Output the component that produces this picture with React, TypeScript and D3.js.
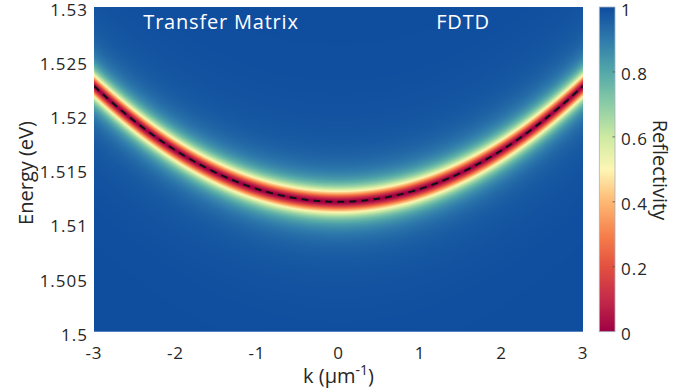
import React, { useMemo } from "react";
import * as d3 from "d3";

// ---- data ----
const K_POINTS = [-3, -2.5, -2, -1.5, -1, -0.5, 0, 0.5, 1, 1.5, 2, 2.5, 3];
const E_POINTS = [1.5227, 1.51944, 1.51676, 1.51468, 1.51319, 1.5123, 1.512, 1.5123, 1.51319, 1.51468, 1.51676, 1.51944, 1.5227];
const LINEWIDTH_EV = 0.00097; // half width at half depth
const X_TICKS = [-3, -2, -1, 0, 1, 2, 3];
const Y_TICKS = [1.5, 1.505, 1.51, 1.515, 1.52, 1.525, 1.53];
const Y_TICK_LABELS = ["1.5", "1.505", "1.51", "1.515", "1.52", "1.525", "1.53"];
const CB_TICKS = [0, 0.2, 0.4, 0.6, 0.8, 1];
const CB_TICK_LABELS = ["0", "0.2", "0.4", "0.6", "0.8", "1"];
const CMAP_POS = [0, 0.1, 0.2, 0.3, 0.4, 0.5, 0.6, 0.7, 0.8, 0.9, 1];
const CMAP_COLORS = ["#9e0142", "#c52a4a", "#e3503f", "#f7814c", "#fdb872", "#fdf6b4", "#cdeaa2", "#8bcca6", "#53a8a8", "#2f7aac", "#0e4c9e"];

const W = 698, H = 390;
const PL = 94, PR = 583, PT = 7, PB = 331.7;
const CBL = 599.3, CBR = 615;
const FONT = "'Open Sans', Arial, sans-serif";

function pt(i: number): number {
  const n = E_POINTS.length;
  if (i < 0) return 3 * E_POINTS[0] - 3 * E_POINTS[1] + E_POINTS[2];
  if (i > n - 1) return 3 * E_POINTS[n - 1] - 3 * E_POINTS[n - 2] + E_POINTS[n - 3];
  return E_POINTS[i];
}

function catmull(k: number): number {
  const n = K_POINTS.length;
  const h = K_POINTS[1] - K_POINTS[0];
  let i = Math.floor((k - K_POINTS[0]) / h);
  i = Math.max(0, Math.min(n - 2, i));
  const t = (k - K_POINTS[i]) / h;
  const p0 = pt(i - 1), p1 = pt(i), p2 = pt(i + 1), p3 = pt(i + 2);
  const t2 = t * t, t3 = t2 * t;
  return 0.5 * (2 * p1 + (-p0 + p2) * t + (2 * p0 - 5 * p1 + 4 * p2 - p3) * t2 + (-p0 + 3 * p1 - 3 * p2 + p3) * t3);
}

export default function App() {
  const x = d3.scaleLinear().domain([-3, 3]).range([PL, PR]);
  const y = d3.scaleLinear().domain([1.5, 1.53]).range([PB, PT]);
  const cy = d3.scaleLinear().domain([0, 1]).range([PB, PT]);
  const cmap = d3.scaleLinear<string>().domain(CMAP_POS).range(CMAP_COLORS).interpolate(d3.interpolateRgb).clamp(true);

  const heat = useMemo(() => {
    const w = Math.round(PR - PL), h = Math.round(PB - PT);
    const c = document.createElement("canvas");
    c.width = w; c.height = h;
    const ctx = c.getContext("2d")!;
    const img = ctx.createImageData(w, h);
    const lut: number[][] = [];
    for (let i = 0; i <= 1000; i++) {
      const col = d3.rgb(cmap(i / 1000));
      lut.push([col.r, col.g, col.b]);
    }
    for (let i = 0; i < w; i++) {
      const k = x.invert(PL + (i + 0.5) * (PR - PL) / w);
      const e0 = catmull(k);
      for (let j = 0; j < h; j++) {
        const e = y.invert(PT + (j + 0.5) * (PB - PT) / h);
        const d = (e - e0) / LINEWIDTH_EV;
        const r = 1 - 1 / (1 + d * d);
        const c3 = lut[Math.round(r * 1000)];
        const o = (j * w + i) * 4;
        img.data[o] = c3[0]; img.data[o + 1] = c3[1]; img.data[o + 2] = c3[2]; img.data[o + 3] = 255;
      }
    }
    ctx.putImageData(img, 0, 0);
    return c.toDataURL();
  }, []);

  const dense = d3.range(0, 301).map((i) => -3 + (i * 6) / 300);
  const line = d3.line<number>().x((k) => x(k)).y((k) => y(catmull(k)));

  const gradStops = d3.range(0, 51).map((i) => i / 50);

  return (
    <svg width={W} height={H} style={{ position: "absolute", left: 0, top: 0 }}>
      <defs>
        <linearGradient id="cb" x1="0" y1="1" x2="0" y2="0">
          {gradStops.map((s) => (
            <stop key={s} offset={s} stopColor={cmap(s)} />
          ))}
        </linearGradient>
        <clipPath id="plotclip">
          <rect x={PL} y={PT} width={PR - PL} height={PB - PT} />
        </clipPath>
      </defs>
      <rect width={W} height={H} fill="#fff" />
      <image href={heat} x={PL} y={PT} width={PR - PL} height={PB - PT} preserveAspectRatio="none" />
      <path d={line(dense) || ""} fill="none" stroke="#111" strokeWidth={2} strokeDasharray="7,5" clipPath="url(#plotclip)" />
      <text x={221} y={28.5} fill="#fff" fontFamily={FONT} fontSize={20} textAnchor="middle" letterSpacing={0.8}>Transfer Matrix</text>
      <text x={463} y={28.5} fill="#fff" fontFamily={FONT} fontSize={20} textAnchor="middle" letterSpacing={0.8}>FDTD</text>

      {Y_TICKS.map((t, i) => (
        <text key={t} x={88} y={y(t) + 2.5} dominantBaseline="central" textAnchor="end" fontFamily={FONT} fontSize={17} letterSpacing={1} fill="#262626">{Y_TICK_LABELS[i]}</text>
      ))}
      {X_TICKS.map((t) => (
        <text key={t} x={x(t)} y={358.5} textAnchor="middle" fontFamily={FONT} fontSize={17} letterSpacing={1} fill="#262626">{t}</text>
      ))}
      <text x={338.5} y={383} textAnchor="middle" fontFamily={FONT} fontSize={20} fill="#262626">
        k (μm<tspan dy={-8} fontSize={14}>-1</tspan><tspan dy={8}>)</tspan>
      </text>
      <text transform={`translate(33,173) rotate(-90)`} textAnchor="middle" fontFamily={FONT} fontSize={20} fill="#262626">Energy (eV)</text>

      <rect x={CBL} y={PT} width={CBR - CBL} height={PB - PT} fill="url(#cb)" stroke="#a9b2c0" strokeWidth={0.8} />
      {CB_TICKS.map((t, i) => (
        <g key={t}>
          {t > 0 && t < 1 && <line x1={CBR - 2.5} x2={CBR} y1={cy(t)} y2={cy(t)} stroke="#555" strokeWidth={0.8} />}
          <text x={621} y={cy(t) + 2} dominantBaseline="central" fontFamily={FONT} fontSize={17} letterSpacing={1} fill="#262626">{CB_TICK_LABELS[i]}</text>
        </g>
      ))}
      <text transform={`translate(653,170) rotate(90)`} textAnchor="middle" fontFamily={FONT} fontSize={20} fill="#262626">Reflectivity</text>
    </svg>
  );
}
